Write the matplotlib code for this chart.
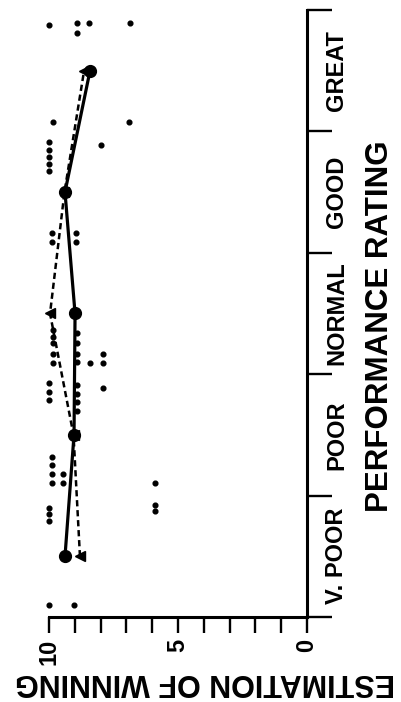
import matplotlib
matplotlib.use('Agg')
import matplotlib.pyplot as plt
from matplotlib import font_manager

# ---------------- data ----------------
categories = ['V. POOR', 'POOR', 'NORMAL', 'GOOD', 'GREAT']
solid_vals = [9.38, 9.03, 8.99, 9.38, 8.41]
dashed_vals = [8.80, 9.05, 9.96, 9.40, 8.64]

# individual responses: position along rating axis (category units) and value
dot_pos = [4.38, 4.39, 4.31, 4.39, 4.39,
           3.58, 3.58, 3.41, 3.35, 3.29, 3.23, 3.17, 3.39,
           2.66, 2.59, 2.66, 2.59,
           1.86, 1.81, 1.76, 1.67, 1.59,
           1.84, 1.76, 1.67, 1.60,
           1.59, 1.67, 1.59,
           1.43, 1.35, 1.29,
           1.41, 1.34, 1.27, 1.20,
           1.39,
           0.82, 0.75, 0.68, 0.60,
           0.68, 0.60,
           0.60, 0.42, 0.37,
           0.40, 0.35, 0.29,
           -0.40, -0.40]
dot_vals = [10.0, 8.9, 8.9, 8.45, 6.85,
            9.85, 6.9, 10.0, 10.0, 10.0, 10.0, 10.0, 8.0,
            9.9, 9.9, 8.95, 8.95,
            9.85, 9.85, 9.85, 9.85, 9.85,
            8.9, 8.9, 8.9, 8.9,
            8.4, 7.9, 7.9,
            10.0, 10.0, 10.0,
            8.9, 8.9, 8.9, 8.9,
            7.9,
            9.9, 9.9, 9.9, 9.9,
            9.45, 9.45,
            5.9, 5.9, 5.9,
            10.0, 10.0, 10.0,
            10.0, 9.05]

value_ticks = list(range(0, 11))
value_labels = ['0', '', '', '', '', '5', '', '', '', '', '10']

# ---------------- fonts ----------------
avail = {f.name for f in font_manager.fontManager.ttflist}
narrow = 'Liberation Sans Narrow' if 'Liberation Sans Narrow' in avail else 'Liberation Sans'
wide = 'Liberation Sans'

W, H = 401, 702
fig = plt.figure(figsize=(W / 100, H / 100), dpi=100)
ax = fig.add_axes([49 / W, 1 - 617 / H, (307 - 49) / W, (617 - 10) / H])

pos = list(range(len(categories)))
ax.plot(dot_vals, dot_pos, ls='none', marker='o', ms=3.4, color='black',
        zorder=2, clip_on=False)
ax.plot(dashed_vals, pos, color='black', lw=1.8, ls=(0, (2.5, 1.5)),
        marker='<', ms=7, zorder=3, clip_on=False)
ax.plot(solid_vals, pos, color='black', lw=2.3, marker='o', ms=8.5,
        zorder=4, clip_on=False)

ax.set_xlim(10, 0)
ax.set_ylim(-0.5, len(categories) - 0.5)

for s in ['left', 'top']:
    ax.spines[s].set_visible(False)
for s in ['bottom', 'right']:
    ax.spines[s].set_linewidth(2.2)
    ax.spines[s].set_capstyle('projecting')

# value axis (bottom)
ax.set_xticks(value_ticks)
ax.set_xticklabels(value_labels, rotation=90, fontsize=17, family=narrow, weight='bold')
ax.tick_params(axis='x', direction='out', length=11.5, width=1.7, pad=4)

# rating axis (right)
ax.yaxis.tick_right()
ax.set_yticks([p - 0.5 for p in pos] + [len(categories) - 0.5])
ax.set_yticklabels([])
ax.set_yticks(pos, minor=True)
ax.set_yticklabels(categories, minor=True, rotation=90, fontsize=17,
                   family=narrow, weight='bold', va='center')
ax.tick_params(axis='y', which='major', direction='out', length=18, width=1.7,
               right=True, left=False)
ax.tick_params(axis='y', which='minor', length=0, pad=13,
               right=True, left=False, labelright=True, labelleft=False)

fig.text(380 / W, 1 - 326 / H, 'PERFORMANCE RATING', rotation=90, ha='center',
         va='center', fontsize=22.5, family=narrow, weight='bold')
fig.text(205 / W, 1 - 682 / H, 'ESTIMATION OF WINNING', rotation=180, ha='center',
         va='center', fontsize=22, family=wide, weight='bold')

fig.savefig('out.png', dpi=100)
